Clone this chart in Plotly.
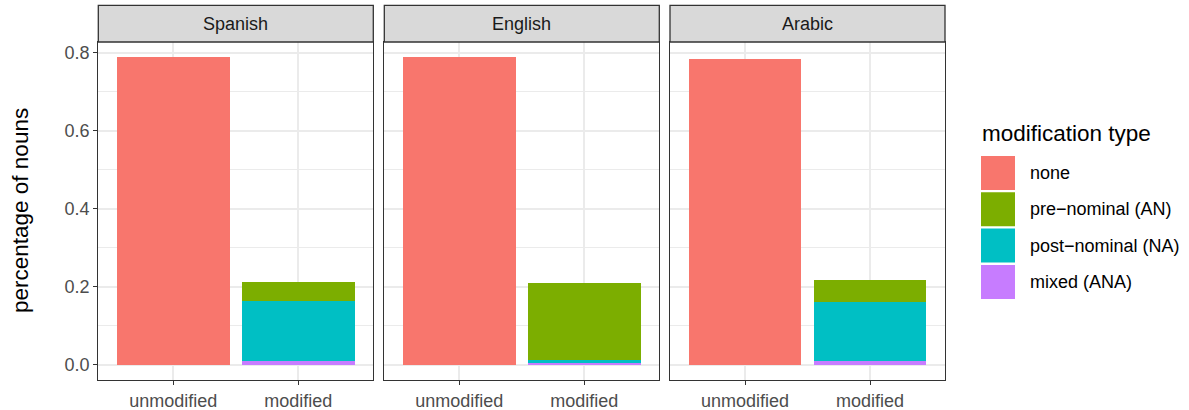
import plotly.graph_objects as go

# ---- data ----
languages = ["Spanish", "English", "Arabic"]
categories = ["unmodified", "modified"]
mod_types = ["none", "pre\u2212nominal (AN)", "post\u2212nominal (NA)", "mixed (ANA)"]
colors = ["#F8766D", "#7CAE00", "#00BFC4", "#C77CFF"]

none_vals = [0.790, 0.790, 0.785]     # unmodified
pre_vals = [0.050, 0.197, 0.056]      # modified
post_vals = [0.153, 0.009, 0.153]     # modified
mixed_vals = [0.010, 0.004, 0.009]    # modified

y_ticks = [0.0, 0.2, 0.4, 0.6, 0.8]

# ---- geometry (pixels) ----
W, H = 1189, 410
panels_px = [(98.3, 373.3), (384.3, 659.3), (670.0, 945.0)]
plot_top, plot_bot = 42.0, 380.0
strip_top = 5.3

def px_x(p):
    return p / W

def px_y(p):
    return 1 - p / H

FONT = "Liberation Sans, Arial, sans-serif"
fig = go.Figure()

# stacking order: bottom first
series = [
    (3, mixed_vals, "modified"),
    (2, post_vals, "modified"),
    (1, pre_vals, "modified"),
    (0, none_vals, "unmodified"),
]

for i, lang in enumerate(languages):
    sfx = "" if i == 0 else str(i + 1)
    for idx, vals, cat in series:
        fig.add_trace(go.Bar(
            x=[cat], y=[vals[i]],
            xaxis="x" + sfx, yaxis="y" + sfx,
            marker=dict(color=colors[idx], line=dict(width=0)),
            width=0.9, showlegend=False, name=mod_types[idx],
            hoverinfo="skip",
        ))

layout = dict(
    width=W, height=H, autosize=False,
    margin=dict(l=0, r=0, t=0, b=0),
    paper_bgcolor="white", plot_bgcolor="white",
    barmode="stack", bargap=0.1, showlegend=False,
    font=dict(family=FONT, color="#000000"),
)

shapes = []
annotations = []
ydom = [px_y(plot_bot), px_y(plot_top)]
for i, lang in enumerate(languages):
    sfx = "" if i == 0 else str(i + 1)
    x0, x1 = panels_px[i]
    layout["xaxis" + sfx] = dict(
        domain=[px_x(x0), px_x(x1)], anchor="y" + sfx,
        type="category", categoryorder="array", categoryarray=categories,
        range=[-0.6, 1.6],
        showgrid=True, gridcolor="#EBEBEB", gridwidth=2,
        showline=True, linecolor="#333333", linewidth=1.3, mirror=True,
        ticks="outside", ticklen=4, tickwidth=1.1, tickcolor="#333333",
        tickfont=dict(family=FONT, size=18, color="#4D4D4D"),
        zeroline=False, fixedrange=True,
    )
    layout["yaxis" + sfx] = dict(
        domain=ydom, anchor="x" + sfx,
        range=[-0.039, 0.828],
        tickvals=y_ticks, ticktext=["%.1f" % v for v in y_ticks],
        showticklabels=(i == 0),
        ticks="outside" if i == 0 else "", ticklen=4, tickwidth=1.1, tickcolor="#333333",
        tickfont=dict(family=FONT, size=18, color="#4D4D4D"),
        showgrid=True, gridcolor="#EBEBEB", gridwidth=2,
        minor=dict(dtick=0.1, tick0=0.1, showgrid=True, gridcolor="#EBEBEB", gridwidth=1, ticks=""),
        showline=True, linecolor="#333333", linewidth=1.3, mirror=True,
        zeroline=False, fixedrange=True,
    )
    # strip
    shapes.append(dict(
        type="rect", xref="paper", yref="paper",
        x0=px_x(x0), x1=px_x(x1), y0=px_y(plot_top), y1=px_y(strip_top),
        fillcolor="#D9D9D9", line=dict(color="#333333", width=1.3), layer="above",
    ))
    annotations.append(dict(
        text=lang, xref="paper", yref="paper",
        x=px_x((x0 + x1) / 2), y=px_y((plot_top + strip_top) / 2),
        showarrow=False, xanchor="center", yanchor="middle",
        font=dict(family=FONT, size=18, color="#1A1A1A"),
    ))

# y-axis title
annotations.append(dict(
    text="percentage of nouns", xref="paper", yref="paper",
    x=px_x(20), y=px_y((plot_top + plot_bot) / 2), textangle=-90,
    showarrow=False, xanchor="center", yanchor="middle",
    font=dict(family=FONT, size=22.5, color="#000000"),
))

# legend (drawn manually to get ggplot-like square keys)
leg_x0, key_w, key_h, row_pitch, first_row_top = 981.0, 34.0, 34.0, 36.3, 156.0
annotations.append(dict(
    text="modification type", xref="paper", yref="paper",
    x=px_x(980), y=px_y(133), showarrow=False, xanchor="left", yanchor="middle",
    font=dict(family=FONT, size=22.5, color="#000000"),
))
for k, (lab, col) in enumerate(zip(mod_types, colors)):
    top = first_row_top + k * row_pitch
    shapes.append(dict(
        type="rect", xref="paper", yref="paper",
        x0=px_x(leg_x0), x1=px_x(leg_x0 + key_w), y0=px_y(top + key_h), y1=px_y(top),
        fillcolor=col, line=dict(width=0),
    ))
    annotations.append(dict(
        text=lab, xref="paper", yref="paper",
        x=px_x(1028), y=px_y(top + key_h / 2), showarrow=False,
        xanchor="left", yanchor="middle",
        font=dict(family=FONT, size=18, color="#000000"),
    ))

layout["shapes"] = shapes
layout["annotations"] = annotations
fig.update_layout(**layout)
fig.write_html("out.html")
